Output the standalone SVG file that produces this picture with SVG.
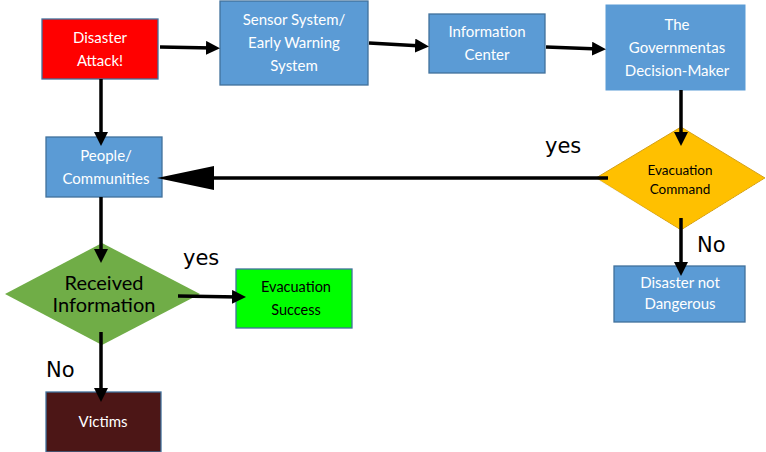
<svg xmlns="http://www.w3.org/2000/svg" width="766" height="452" viewBox="0 0 766 452">
<style>
.box{stroke:#41719C;stroke-width:1.3}
.blue{fill:#5B9BD5}
.t{font-family:Lato,"Open Sans","Liberation Sans",sans-serif;font-size:15px;text-anchor:middle;fill:#fff}
.tb{font-family:Lato,"Open Sans","Liberation Sans",sans-serif;text-anchor:middle;fill:#000}
.lbl{font-family:"DejaVu Sans",sans-serif;font-size:21px;fill:#000}
.c{stroke:#000;stroke-width:3.5;fill:none}
</style>
<defs>
<marker id="ah" markerWidth="4" markerHeight="4" refX="2" refY="2" orient="auto" markerUnits="strokeWidth" viewBox="0 0 4 4">
<path d="M0,0 L4,2 L0,4 z" fill="#000"/>
</marker>
</defs>
<rect width="766" height="452" fill="#fff"/>
<g id="disaster">
<rect class="box" x="42" y="19" width="116" height="60" fill="#FF0000"/>
<text class="t" x="100" y="43">Disaster</text>
<text class="t" x="100" y="66">Attack!</text>
</g>
<g id="sensor">
<rect class="box blue" x="220" y="1" width="148" height="84"/>
<text class="t" x="294" y="25">Sensor System/</text>
<text class="t" x="294" y="48">Early Warning</text>
<text class="t" x="294" y="71">System</text>
</g>
<g id="infocenter">
<rect class="box blue" x="429" y="14" width="116" height="59"/>
<text class="t" x="487" y="37">Information</text>
<text class="t" x="487" y="60">Center</text>
</g>
<g id="government">
<rect class="blue" x="606" y="5" width="139" height="85" stroke="#5B9BD5"/>
<text class="t" x="677" y="30">The</text>
<text class="t" x="677" y="53">Governmentas</text>
<text class="t" x="677" y="76">Decision-Maker</text>
</g>
<g id="people">
<rect class="box blue" x="46" y="137" width="116" height="60"/>
<text class="t" x="106" y="161">People/</text>
<text class="t" x="106" y="184">Communities</text>
</g>
<g id="evacuation-command">
<path d="M681,127 L765,178 L681,230 L596,178 z" fill="#FFC000" stroke="#D4A017" stroke-width="1"/>
<path d="M597,179 L681,231 L765,179" fill="none" stroke="#fff" stroke-width="0.8"/>
<text class="tb" x="680" y="175" font-size="13.5">Evacuation</text>
<text class="tb" x="680" y="194" font-size="13.5">Command</text>
</g>
<g id="not-dangerous">
<rect class="box blue" x="614" y="266" width="131" height="56"/>
<text class="t" x="680" y="288" font-size="14">Disaster not</text>
<text class="t" x="680" y="309" font-size="14">Dangerous</text>
</g>
<g id="received">
<path d="M102,243 L200,294 L102,345 L5,294 z" fill="#70AD47"/>
<text class="tb" x="104" y="290" font-size="20">Received</text>
<text class="tb" x="104" y="312" font-size="20">Information</text>
</g>
<g id="success">
<rect class="box" x="236" y="269" width="116" height="59" fill="#00FF00"/>
<text class="tb" x="296" y="292" font-size="14.5">Evacuation</text>
<text class="tb" x="296" y="315" font-size="14.5">Success</text>
</g>
<g id="victims">
<rect class="box" x="46" y="392" width="115" height="60" fill="#4C1616"/>
<text class="t" x="103" y="427">Victims</text>
</g>
<g id="labels">
<text class="lbl" x="545" y="153">yes</text>
<text class="lbl" x="697" y="252">No</text>
<text class="lbl" x="183" y="265">yes</text>
<text class="lbl" x="46" y="377">No</text>
</g>
<g id="connectors">
<line class="c" x1="160" y1="47" x2="213" y2="48" marker-end="url(#ah)"/>
<line class="c" x1="369" y1="43" x2="422" y2="46" marker-end="url(#ah)"/>
<line class="c" x1="546" y1="47" x2="599" y2="49" marker-end="url(#ah)"/>
<line class="c" x1="101" y1="79" x2="101" y2="139" marker-end="url(#ah)"/>
<line class="c" x1="681" y1="90" x2="681" y2="139" marker-end="url(#ah)"/>
<line class="c" x1="608" y1="178" x2="212" y2="178"/>
<path d="M157,178 L214,166 L214,190 z" fill="#000"/>
<line class="c" x1="101" y1="197" x2="101" y2="256" marker-end="url(#ah)"/>
<line class="c" x1="178" y1="296" x2="239" y2="297" marker-end="url(#ah)"/>
<line class="c" x1="101" y1="332" x2="101" y2="395" marker-end="url(#ah)"/>
<line class="c" x1="681" y1="218" x2="681" y2="269" marker-end="url(#ah)"/>
</g>
</svg>
